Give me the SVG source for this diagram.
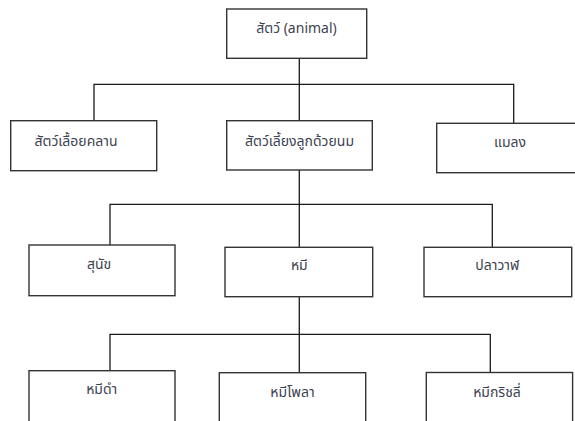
<svg xmlns="http://www.w3.org/2000/svg" width="575" height="421" viewBox="0 0 575 421">
  <style>
    .box { fill: #ffffff; stroke: #333333; stroke-width: 1.4; }
    .lbl { font-family: "Noto Sans Thai", "Liberation Sans", "DejaVu Sans", sans-serif; font-size: 14px; fill: #3d4250; text-anchor: middle; }
    .wire { fill: none; stroke: #1a1a1a; stroke-width: 1.3; }
  </style>
  <rect width="575" height="421" fill="#ffffff"/>

  <!-- connectors -->
  <g id="connectors">
    <path class="wire" d="M299.3 58.3 V120.7"/>
    <path class="wire" d="M94 120.7 V84.3 H513.7 V123.3"/>
    <path class="wire" d="M299.3 170 V247.3"/>
    <path class="wire" d="M110 245 V204.3 H492.3 V247.3"/>
    <path class="wire" d="M299.3 296.7 V372.7"/>
    <path class="wire" d="M110 370.7 V334.3 H490.3 V372.5"/>
  </g>

  <!-- level 0 -->
  <g id="animal">
    <rect class="box" x="226.7" y="9" width="140" height="49.3"/>
    <text class="lbl" x="296.5" y="33">สัตว์ (animal)</text>
  </g>

  <!-- level 1 -->
  <g id="reptile">
    <rect class="box" x="10.7" y="120.7" width="146" height="50"/>
    <text class="lbl" x="76" y="146">สัตว์เลื้อยคลาน</text>
  </g>
  <g id="mammal">
    <rect class="box" x="226.7" y="120.7" width="145.6" height="49.3"/>
    <text class="lbl" x="299.5" y="146">สัตว์เลี้ยงลูกด้วยนม</text>
  </g>
  <g id="insect">
    <rect class="box" x="436.7" y="123.3" width="145" height="49.4"/>
    <text class="lbl" x="510" y="146.7">แมลง</text>
  </g>

  <!-- level 2 -->
  <g id="dog">
    <rect class="box" x="29" y="245" width="146" height="50.7"/>
    <text class="lbl" x="99" y="269">สุนัข</text>
  </g>
  <g id="bear">
    <rect class="box" x="225" y="247.3" width="147.7" height="49.4"/>
    <text class="lbl" x="299.3" y="270">หมี</text>
  </g>
  <g id="whale">
    <rect class="box" x="424" y="247.3" width="147.7" height="49.4"/>
    <text class="lbl" x="497.3" y="270">ปลาวาฬ</text>
  </g>

  <!-- level 3 -->
  <g id="black-bear">
    <rect class="box" x="29" y="370.7" width="146" height="60"/>
    <text class="lbl" x="101.7" y="394">หมีดำ</text>
  </g>
  <g id="polar-bear">
    <rect class="box" x="219.3" y="372.7" width="146.4" height="60"/>
    <text class="lbl" x="292.5" y="396.7">หมีโพลา</text>
  </g>
  <g id="grizzly-bear">
    <rect class="box" x="426.3" y="372.5" width="146.3" height="60"/>
    <text class="lbl" x="497" y="396.7">หมีกริชลี่</text>
  </g>
</svg>
